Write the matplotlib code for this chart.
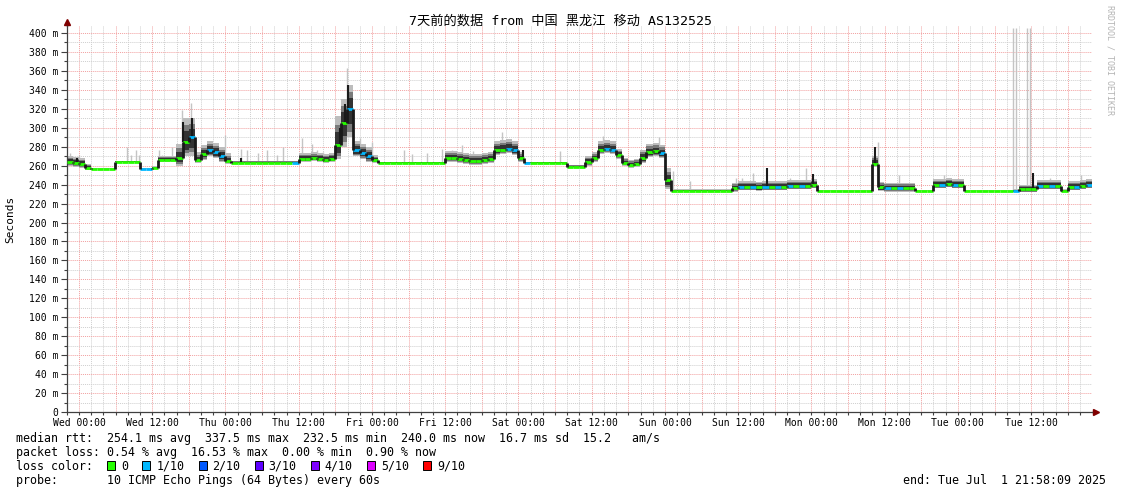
import numpy as np
import matplotlib
matplotlib.use("Agg")
import matplotlib.pyplot as plt
import matplotlib.dates as mdates
from matplotlib.collections import LineCollection
from matplotlib.patches import Rectangle
from matplotlib.ticker import MultipleLocator, FuncFormatter

plt.rcParams['font.family'] = ['DejaVu Sans Mono', 'Noto Sans CJK SC']

W, H = 1121, 494

title = "7天前的数据 from 中国 黑龙江 移动 AS132525"
start = np.datetime64('2025-06-24T21:58:09')

# hourly median rtt (ms), one value per hour from start
median = [
    264, 263, 262, 258, 256, 256, 256, 256, 264, 264, 264, 264,
    256, 256, 257, 266, 266, 266, 268, 285, 290, 266, 272, 276,
    274, 270, 265, 263, 263, 263, 263, 263, 263, 263, 263, 263,
    263, 263, 267, 267, 268, 267, 266, 267, 282, 305, 320, 276,
    273, 270, 266, 263, 263, 263, 263, 263, 263, 263, 263, 263,
    263, 263, 268, 268, 267, 266, 265, 265, 266, 267, 276, 277,
    278, 276, 268, 263, 263, 263, 263, 263, 263, 263, 259, 259,
    259, 264, 268, 277, 278, 277, 271, 263, 261, 262, 268, 274,
    275, 273, 245, 233, 233, 233, 233, 233, 233, 233, 233, 233,
    233, 236, 238, 238, 238, 237, 238, 238, 238, 238, 239, 239,
    239, 239, 240, 233, 233, 233, 233, 233, 233, 233, 233, 233,
    262, 237, 236, 236, 236, 236, 236, 233, 233, 233, 240, 240,
    241, 240, 240, 233, 233, 233, 233, 233, 233, 233, 233, 233,
    235, 235, 235, 239, 239, 239, 239, 233, 238, 238, 239, 240,
]

# smoke extent above / below the median (ms)
smoke_hi = [
    6, 6, 6, 4, 1, 1, 1, 1, 1, 1, 1, 1,
    1, 1, 3, 4, 4, 4, 15, 25, 20, 8, 10, 10,
    10, 10, 8, 2, 2, 2, 2, 2, 2, 2, 2, 2,
    2, 2, 6, 6, 6, 6, 6, 6, 30, 25, 25, 10,
    10, 10, 5, 1, 1, 1, 1, 1, 1, 1, 1, 1,
    1, 1, 7, 7, 7, 7, 7, 7, 7, 7, 10, 10,
    10, 10, 6, 1, 1, 1, 1, 1, 1, 1, 2, 2,
    2, 6, 6, 9, 9, 9, 7, 5, 5, 5, 9, 9,
    9, 9, 12, 2, 2, 2, 2, 2, 2, 2, 2, 2,
    2, 6, 6, 6, 6, 6, 6, 6, 6, 6, 6, 6,
    6, 6, 6, 1, 1, 1, 1, 1, 1, 1, 1, 1,
    8, 6, 6, 6, 6, 6, 6, 1, 1, 1, 6, 6,
    6, 6, 6, 1, 1, 1, 1, 1, 1, 1, 1, 2,
    5, 5, 5, 6, 6, 6, 6, 2, 6, 6, 6, 6,
]
smoke_lo = [
    4, 4, 4, 3, 0, 0, 0, 0, 0, 0, 0, 0,
    0, 0, 1, 2, 2, 2, 8, 15, 20, 3, 6, 6,
    6, 6, 3, 0, 0, 0, 0, 0, 0, 0, 0, 0,
    0, 0, 3, 3, 3, 3, 3, 3, 15, 25, 30, 6,
    6, 6, 3, 0, 0, 0, 0, 0, 0, 0, 0, 0,
    0, 0, 4, 4, 4, 4, 4, 4, 4, 4, 5, 5,
    5, 5, 4, 0, 0, 0, 0, 0, 0, 0, 1, 1,
    1, 4, 4, 5, 5, 5, 4, 3, 3, 3, 5, 5,
    5, 5, 10, 0, 0, 0, 0, 0, 0, 0, 0, 0,
    0, 4, 4, 4, 4, 4, 4, 4, 4, 4, 4, 4,
    4, 4, 4, 0, 0, 0, 0, 0, 0, 0, 0, 0,
    3, 4, 4, 4, 4, 4, 4, 0, 0, 0, 4, 4,
    4, 4, 4, 0, 0, 0, 0, 0, 0, 0, 0, 1,
    3, 3, 3, 4, 4, 4, 4, 1, 4, 4, 4, 4,
]

# hours with 1/10 packet loss (rest 0)
loss_1_hours = [12, 13, 20, 23, 24, 25, 37, 46, 47, 48, 49, 72, 73, 75, 88, 89,
                97, 110, 112, 114, 116, 118, 120, 134, 136, 143, 145, 155, 159,
                161, 165, 167]

# light grey outlier pings: (hour from start, top ms)
outlier_hours = [0.6, 2.0, 9.9, 10.6, 11.4, 11.9, 15.1, 15.6, 17.3, 18.9, 20.4,
                 26.0, 28.6, 29.6, 31.4, 32.9, 34.5, 35.5, 38.6, 40.2, 41.0, 42.0,
                 45.1, 46.0, 48.1, 50.1, 55.2, 56.6, 59.1, 61.5, 63.2, 64.8, 66.6,
                 71.4, 73.5, 80.9, 87.9, 89.9, 97.0, 99.3, 102.2, 109.6, 110.7,
                 112.5, 118.6, 121.1, 132.9, 136.3, 143.7, 155.0, 155.6, 157.4,
                 157.9, 161.2, 166.2]
outlier_top = [273, 271, 280, 271, 276, 271, 277, 271, 280, 319, 326,
               292, 278, 276, 273, 276, 271, 280, 289, 283, 276, 274,
               329, 363, 289, 285, 276, 272, 273, 278, 277, 282, 275,
               296, 284, 275, 291, 284, 290, 254, 244, 247, 247,
               252, 247, 257, 285, 250, 250, 405, 405, 405,
               405, 247, 250]

# dark narrow peaks: (hour, top ms)
peak_hours = [1.7, 19.1, 20.5, 28.6, 44.8, 45.6, 46.1, 70.0, 74.8, 114.7, 122.3, 132.5, 158.4]
peak_top = [268, 306, 310, 268, 300, 325, 345, 277, 276, 257, 251, 280, 252]

loss_labels = ['0', '1/10', '2/10', '3/10', '4/10', '5/10', '9/10']
loss_colors = ['#26ff00', '#00b8ff', '#0059ff', '#5e00ff', '#7e00ff', '#dd00ff', '#ff0000']

stats_rtt = "median rtt:  254.1 ms avg  337.5 ms max  232.5 ms min  240.0 ms now  16.7 ms sd  15.2   am/s"
stats_loss = "packet loss: 0.54 % avg  16.53 % max  0.00 % min  0.90 % now"
probe = "probe:       10 ICMP Echo Pings (64 Bytes) every 60s"
end_txt = "end: Tue Jul  1 21:58:09 2025"

# ---------------------------------------------------------------
med = np.array(median, float)
hi = np.array(smoke_hi, float)
lo = np.array(smoke_lo, float)
n = len(med)
loss = np.zeros(n, int)
loss[loss_1_hours] = 1

t0 = mdates.date2num(start)
xe = t0 + np.arange(n + 1) / 24.0

fig = plt.figure(figsize=(W / 100, H / 100), dpi=100)
ax = fig.add_axes([66.6 / W, 82 / H, 1025.4 / W, 386 / H])
ax.set_xlim(t0, t0 + 7)
ax.set_ylim(0, 407.4)

def ext(a):
    return np.append(a, a[-1])

for fl, fh, c in [(1.0, 1.0, '#bdbdbd'), (0.8, 0.7, '#7a7a7a'), (0.55, 0.45, '#333333')]:
    ax.fill_between(xe, ext(med - lo * fl), ext(med + hi * fh), step='post',
                    color=c, lw=0, zorder=2)

for h, top in zip(outlier_hours, outlier_top):
    ax.vlines(t0 + h / 24, med[int(h)], top, color='#c4c4c4', lw=1.0, zorder=1.9)

for h, top in zip(peak_hours, peak_top):
    ax.vlines(t0 + h / 24, med[int(h)], top, color='#1a1a1a', lw=1.5, zorder=3)

segs, cols = [], []
for i in range(n):
    c = loss_colors[loss[i]]
    segs.append([(xe[i], med[i]), (xe[i + 1], med[i])])
    cols.append(c)
    if i > 0 and med[i] != med[i - 1]:
        segs.append([(xe[i], med[i - 1]), (xe[i], med[i])])
        cols.append('#1a1a1a')
ax.add_collection(LineCollection(segs, colors=cols, linewidths=2.0, capstyle='butt', zorder=4))

# axes styling
ax.yaxis.set_major_locator(MultipleLocator(20))
ax.yaxis.set_minor_locator(MultipleLocator(10))
ax.yaxis.set_major_formatter(FuncFormatter(lambda v, p: f"{int(v)} m" if v else "0"))
ax.xaxis.set_major_locator(mdates.HourLocator(byhour=[0, 6, 12, 18]))
ax.xaxis.set_minor_locator(mdates.HourLocator(byhour=range(0, 24, 2)))

def xfmt(v, p):
    d = mdates.num2date(v)
    return d.strftime('%a %H:%M') if d.hour % 12 == 0 else ''
ax.xaxis.set_major_formatter(FuncFormatter(xfmt))

ax.tick_params(which='major', direction='out', length=4, width=0.8, color='#404040',
               labelsize=7, pad=2)
ax.tick_params(which='minor', direction='out', length=2, width=0.8, color='#404040')
ax.tick_params(axis='x', which='both', length=2)

ax.grid(which='minor', color='#cfcfcf', ls=(0, (1, 1)), lw=0.7)
ax.grid(which='major', color='#f2a0a0', ls=(0, (1, 1)), lw=0.7)
ax.set_axisbelow(True)
for s in ['top', 'right']:
    ax.spines[s].set_visible(False)
for s in ['left', 'bottom']:
    ax.spines[s].set_color('#404040')
    ax.spines[s].set_linewidth(0.9)

ax.plot([0, 0], [1, 1.01], color='#404040', lw=0.9, transform=ax.transAxes, clip_on=False)
ax.plot([0], [1.01], marker='^', ms=4, color='#800000', transform=ax.transAxes, clip_on=False)
ax.plot([1, 1.003], [0, 0], color='#404040', lw=0.9, transform=ax.transAxes, clip_on=False)
ax.plot([1.004], [0], marker='>', ms=4, color='#800000', transform=ax.transAxes, clip_on=False)

# texts
def fy(y):
    return 1 - y / H

fs = 8.4
fig.text(0.5, fy(21), title, ha='center', va='center', fontsize=9.5)
fig.text(10 / W, fy(219), 'Seconds', rotation=90, ha='center', va='center', fontsize=8)
fig.text(1110 / W, fy(60), 'RRDTOOL / TOBI OETIKER', rotation=270, ha='center', va='center',
         fontsize=6, color='#b4b4b4')

x0 = 16 / W
fig.text(x0, fy(438), stats_rtt, ha='left', va='center', fontsize=fs)
fig.text(x0, fy(452), stats_loss, ha='left', va='center', fontsize=fs)
fig.text(x0, fy(466), "loss color:", ha='left', va='center', fontsize=fs)
fig.text(x0, fy(480), probe, ha='left', va='center', fontsize=fs)
fig.text(1106 / W, fy(480), end_txt, ha='right', va='center', fontsize=fs)

cw = 7.02
col = 13
for lab, c in zip(loss_labels, loss_colors):
    bx = 16 + col * cw
    fig.add_artist(Rectangle((bx / W, fy(470)), 8 / W, 9 / H, facecolor=c,
                             edgecolor='black', lw=0.7, transform=fig.transFigure))
    fig.text((16 + (col + 2) * cw) / W, fy(466), lab, ha='left', va='center', fontsize=fs)
    col += 4 + len(lab)

fig.savefig('out.png', dpi=100)
